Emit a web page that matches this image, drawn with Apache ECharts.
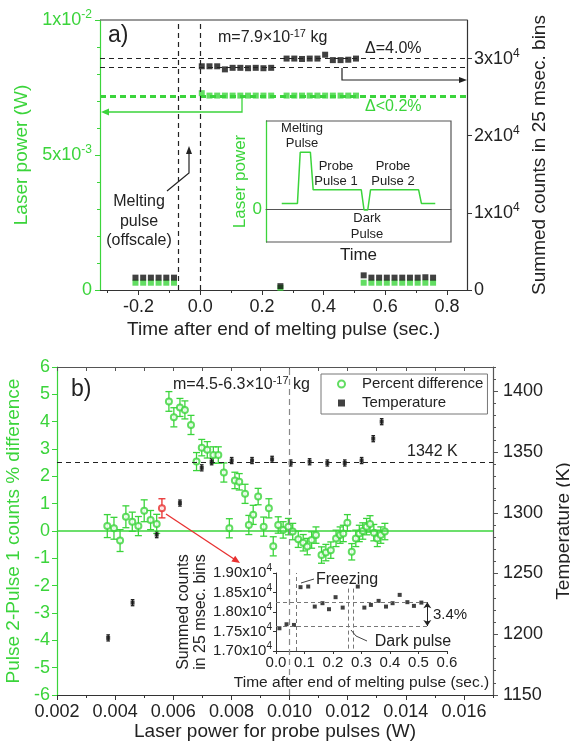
<!DOCTYPE html>
<html><head><meta charset="utf-8">
<script src="https://cdn.jsdelivr.net/npm/echarts@6/dist/echarts.min.js"></script>
<style>html,body{margin:0;padding:0;background:#fff}#c{width:570px;height:748px}</style>
</head><body><div id="c"></div>
<script>
// ---------- Panel a: time trace ----------
const aTime = [-0.21,-0.185,-0.16,-0.135,-0.11,-0.085,
  0.005,0.03,0.055,0.08,0.105,0.13,0.155,0.18,0.205,0.23,
  0.26,
  0.28,0.305,0.33,0.355,0.38,0.405,0.43,0.455,0.48,0.505,
  0.53,0.555,0.58,0.605,0.63,0.655,0.68,0.705,0.73,0.755];
const aCounts = [1600,1600,1600,1600,1600,1600,
  29000,29000,29000,28600,28800,28800,28750,28800,28750,28800,
  500,
  30000,30000,29950,30000,30000,30500,29800,29800,29850,30000,
  1900,1600,1600,1600,1600,1600,1600,1600,1650,1600];
const aPower = [0.00027,0.00027,0.00027,0.00027,0.00027,0.00027,
  0.00729,0.0072,0.0072,0.0072,0.0072,0.0072,0.0072,0.0072,0.0072,0.0072,
  0.00008,
  0.0072,0.0072,0.0072,0.0072,0.0072,0.0072,0.0072,0.0072,0.0072,0.0072,
  0.00027,0.00027,0.00027,0.00027,0.00027,0.00027,0.00027,0.00027,0.00027,0.00027];
const aXTicks = [-0.2,0,0.2,0.4,0.6,0.8];
const aXMinor = [-0.3,-0.1,0.1,0.3,0.5,0.7];
const aCountTicks = [0,10000,20000,30000];
const aXRange = [-0.325, 0.865];
const aVLines = [-0.072, 0];
const aCountLines = [30000, 28850];
const aPowerLines = [0.00721, 0.00716];
// schematic inset (arbitrary units)
const pulseT = [8.5,17,18.5,24,25.5,51.5,53,55,56.5,82.5,84,91.5];
const pulseP = [0.17,0.17,1.72,1.72,0.58,0.58,-0.03,-0.03,0.58,0.58,0.17,0.17];

// ---------- Panel b ----------
const pdPower = [0.00373,0.00396,0.00417,0.00437,0.00459,0.00480,0.00500,0.00522,0.00543,
  0.00585,0.00602,0.00623,0.00640,0.00661,0.00680,0.00698,0.00717,0.00738,0.00755,
  0.00774,0.00793,0.00812,0.00827,0.00847,0.00860,0.00875,0.00892,0.00911,0.00929,
  0.00944,0.00961,0.00978,0.00996,0.01011,0.01030,0.01047,0.01061,0.01076,0.01091,
  0.01110,0.01125,0.01142,0.01160,0.01174,0.01185,0.01199,0.01214,0.01228,0.01240,
  0.01252,0.01265,0.01277,0.01290,0.01302,0.01314,0.01328];
const pdPercent = [0.18,0.10,-0.35,0.52,0.34,0.18,0.74,0.40,0.26,
  4.74,4.16,4.52,4.43,3.88,2.54,3.05,2.97,2.78,2.78,
  2.14,0.10,1.85,1.80,1.36,0.22,0.59,1.26,0.16,0.83,
  -0.56,0.22,0.04,0.16,-0.02,-0.30,-0.43,-0.57,-0.33,-0.15,
  -0.88,-0.79,-0.70,-0.27,-0.15,-0.09,0.30,-0.76,-0.27,-0.09,
  0.00,0.16,0.26,-0.06,-0.27,-0.15,-0.02];
const pdError = [0.42,0.40,0.40,0.40,0.35,0.35,0.40,0.35,0.35,
  0.36,0.35,0.33,0.33,0.35,0.33,0.30,0.30,0.30,0.30,
  0.35,0.35,0.30,0.30,0.35,0.35,0.35,0.30,0.35,0.35,
  0.35,0.30,0.30,0.30,0.30,0.30,0.30,0.30,0.30,0.30,
  0.30,0.30,0.30,0.30,0.30,0.30,0.30,0.30,0.30,0.30,
  0.30,0.30,0.30,0.30,0.30,0.30,0.30];
const redPower = [0.00561];
const redPercent = [0.83];
const redError = [0.35];
const tempPower = [0.00376,0.00460,0.00543,0.00623,0.00698,0.00732,0.00801,0.00871,
  0.00940,0.01004,0.01069,0.01130,0.01190,0.01248,0.01288,0.01317];
const tempK = [1197,1226,1282,1308,1337,1342,1343,1343,1344,1341,1342,1341,1341,1343,1361,1375];
const tempErr = 2.5;
const bXTicks = [0.002,0.004,0.006,0.008,0.010,0.012,0.014,0.016];
const bXMinor = [0.003,0.005,0.007,0.009,0.011,0.013,0.015,0.017];
const bTTicks = [1150,1200,1250,1300,1350,1400];
const bTMinor = [1160,1170,1180,1190,1210,1220,1230,1240,1260,1270,1280,1290,1310,1320,1330,1340,1360,1370,1380,1390,1410,1420];
const meltLine = 0.0057;
const plateauK = 1342;
// inset of panel b
const insetTime = [0.012,0.037,0.063,0.086,0.113,0.136,0.163,0.186,0.209,0.234,
  0.287,0.31,0.333,0.36,0.386,0.409,0.434,0.461,0.484,0.51];
const insetCounts = [17583,17686,17668,18637,18653,18139,18226,18072,18380,18113,
  18653,18113,18182,18285,18139,18226,18439,18252,18157,18241];
const insetLevels = [18250, 17640];

// ---------- styles ----------
const G = '#3bd43b', DK = '#222', AX = '#333';
const FF = '"Liberation Sans", Arial, sans-serif';
const zip = (xs, ys) => xs.map((x,i)=>[x, ys[i]]);
const zip3 = (xs, ys, es) => xs.map((x,i)=>[x, ys[i], es[i]]);
function rich(size, color){
  return {b:{fontSize:size, color, fontFamily:FF, lineHeight:size+4},
          s:{fontSize:Math.round(size*0.65), color, fontFamily:FF, lineHeight:Math.round(size*0.65), verticalAlign:'top'}};
}
function errRender(color, cap){
  return function(params, api){
    const x = api.value(0), y = api.value(1), e = api.value(2);
    const p1 = api.coord([x, y+e]), p2 = api.coord([x, y-e]);
    const st = {stroke:color, lineWidth:1.3};
    return {type:'group', children:[
      {type:'line', shape:{x1:p1[0],y1:p1[1],x2:p2[0],y2:p2[1]}, style:st},
      {type:'line', shape:{x1:p1[0]-cap,y1:p1[1],x2:p1[0]+cap,y2:p1[1]}, style:st},
      {type:'line', shape:{x1:p2[0]-cap,y1:p2[1],x2:p2[0]+cap,y2:p2[1]}, style:st}
    ]};
  };
}
const hLine = (v) => [{coord:[aXRange[0], v]}, {coord:[aXRange[1], v]}];
const noSplit = {show:false};
function tx(text, x, y, size, color, align, extra){
  return {type:'text', x, y, z:10, style:Object.assign({text, fontSize:size, fontFamily:FF, fill:color||DK, align:align||'left', verticalAlign:'middle'}, extra||{})};
}
function pl(points, color, w){ return {type:'polyline', z:10, shape:{points}, style:{stroke:color, lineWidth:w||1.2, fill:null}}; }
function tri(points, color){ return {type:'polygon', z:10, shape:{points}, style:{fill:color}}; }
const supRich = {b:{fontSize:16,fontFamily:FF,fill:DK,lineHeight:20}, s:{fontSize:11,fontFamily:FF,fill:DK,lineHeight:11,verticalAlign:'top'}};

const chart = echarts.init(document.getElementById('c'), null, {renderer:'canvas'});
const option = {
  animation:false,
  backgroundColor:'#fff',
  textStyle:{fontFamily:FF},
  grid:[
    {left:100, top:20, width:367, height:270, outerBoundsMode:'none'},
    {left:266, top:121, width:185, height:121, outerBoundsMode:'none'},
    {left:57, top:367, width:436, height:328, outerBoundsMode:'none'},
    {left:276, top:573, width:171, height:78, outerBoundsMode:'none'}
  ],
  xAxis:[
    {gridIndex:0, type:'value', position:'bottom', min:aXRange[0], max:aXRange[1],
     axisLine:{show:true, onZero:false, lineStyle:{color:AX, width:1.2}},
     axisTick:{show:true, customValues:aXTicks, length:5, lineStyle:{color:AX}},
     axisLabel:{customValues:aXTicks, formatter:v=>v.toFixed(1), fontSize:18, color:DK, margin:8},
     splitLine:noSplit,
     name:'Time after end of melting pulse (sec.)', nameLocation:'middle', nameGap:30,
     nameTextStyle:{fontSize:19, color:DK}},
    {gridIndex:0, type:'value', position:'bottom', min:aXRange[0], max:aXRange[1],
     axisLine:{show:false, onZero:false}, axisTick:{show:true, customValues:aXMinor, length:3, lineStyle:{color:AX}},
     axisLabel:{show:false}, splitLine:noSplit},
    {gridIndex:0, type:'value', position:'top', min:aXRange[0], max:aXRange[1], show:false,
     axisLine:{show:true, onZero:false, lineStyle:{color:'#777', width:1.5}}, axisTick:{show:false},
     axisLabel:{show:false}, splitLine:noSplit},
    {gridIndex:1, type:'value', min:0, max:100,
     axisLine:{show:true, onZero:true, lineStyle:{color:'#555', width:1}}, axisTick:{show:false},
     axisLabel:{show:false}, splitLine:noSplit,
     name:'Time', nameLocation:'middle', nameGap:5, nameTextStyle:{fontSize:17, color:DK}},
    {gridIndex:2, type:'value', position:'bottom', min:0.002, max:0.017,
     axisLine:{show:true, onZero:false, lineStyle:{color:AX, width:1.2}},
     axisTick:{show:true, customValues:bXTicks, length:5, lineStyle:{color:AX}},
     axisLabel:{customValues:bXTicks, formatter:v=>v.toFixed(3), fontSize:18, color:DK, margin:8},
     splitLine:noSplit,
     name:'Laser power for probe pulses (W)', nameLocation:'middle', nameGap:23,
     nameTextStyle:{fontSize:19, color:DK}},
    {gridIndex:2, type:'value', position:'bottom', min:0.002, max:0.017,
     axisLine:{show:false, onZero:false}, axisTick:{show:true, customValues:bXMinor, length:3, lineStyle:{color:AX}},
     axisLabel:{show:false}, splitLine:noSplit},
    {gridIndex:2, type:'value', position:'top', min:0.002, max:0.017, interval:0.001,
     axisLine:{show:true, onZero:false, lineStyle:{color:'#555', width:1.2}},
     axisTick:{show:true, inside:true, length:4, lineStyle:{color:'#555'}},
     axisLabel:{show:false}, splitLine:noSplit},
    {gridIndex:3, type:'value', min:0, max:0.6, interval:0.1,
     axisLine:{show:true, onZero:false, lineStyle:{color:AX, width:1}},
     axisTick:{show:true, length:3, lineStyle:{color:AX}},
     axisLabel:{formatter:v=>v.toFixed(1), fontSize:15, color:DK, margin:4},
     splitLine:noSplit,
     name:'Time after end of melting pulse (sec.)', nameLocation:'middle', nameGap:24,
     nameTextStyle:{fontSize:15.5, color:DK}}
  ],
  yAxis:[
    {gridIndex:0, type:'value', position:'left', min:0, max:0.01, interval:0.005,
     axisLine:{show:true, onZero:false, lineStyle:{color:G, width:1.2}},
     axisTick:{show:true, length:5, lineStyle:{color:G}},
     minorTick:{show:true, splitNumber:5, length:3, lineStyle:{color:G}},
     axisLabel:{margin:8, formatter:v=> v<1e-6 ? '{b|0}' : (v<0.0075 ? '{b|5x10}{s|-3}' : '{b|1x10}{s|-2}'), rich:rich(18,G)},
     splitLine:noSplit, minorSplitLine:{show:false},
     name:'Laser power (W)', nameLocation:'middle', nameGap:67, nameTextStyle:{fontSize:19, color:G}},
    {gridIndex:0, type:'value', position:'right', min:0, max:35000,
     axisLine:{show:true, onZero:false, lineStyle:{color:AX, width:1.2}},
     axisTick:{show:true, customValues:aCountTicks, length:5, lineStyle:{color:AX}},
     axisLabel:{customValues:aCountTicks, margin:7, formatter:v=> v===0 ? '{b|0}' : '{b|'+(v/1e4)+'x10}{s|4}', rich:rich(18,DK)},
     splitLine:noSplit,
     name:'Summed counts in 25 msec. bins', nameLocation:'middle', nameGap:59, nameTextStyle:{fontSize:19, color:DK}},
    {gridIndex:1, type:'value', min:-1, max:2.667,
     axisLine:{show:true, onZero:false, lineStyle:{color:G, width:1.3}}, axisTick:{show:false},
     axisLabel:{customValues:[0], color:G, fontSize:17, margin:4},
     splitLine:noSplit,
     name:'Laser power', nameLocation:'middle', nameGap:10, nameTextStyle:{fontSize:17, color:G}},
    {gridIndex:2, type:'value', position:'left', min:-6, max:6, interval:1,
     axisLine:{show:true, onZero:false, lineStyle:{color:G, width:1.2}},
     axisTick:{show:true, length:5, lineStyle:{color:G}},
     axisLabel:{fontSize:18, color:G, margin:7},
     splitLine:noSplit,
     name:'Pulse 2-Pulse 1 counts % difference', nameLocation:'middle', nameGap:31, nameTextStyle:{fontSize:19, color:G}},
    {gridIndex:2, type:'value', position:'right', min:1150, max:1420,
     axisLine:{show:true, onZero:false, lineStyle:{color:'#555', width:1.2}},
     axisTick:{show:true, customValues:bTTicks, length:5, lineStyle:{color:'#555'}},
     axisLabel:{customValues:bTTicks, formatter:v=>String(v), fontSize:18, color:DK, margin:10},
     splitLine:noSplit,
     name:'Temperature (K)', nameLocation:'middle', nameGap:49, nameTextStyle:{fontSize:19, color:DK}},
    {gridIndex:2, type:'value', position:'right', min:1150, max:1420,
     axisLine:{show:false, onZero:false}, axisTick:{show:true, customValues:bTMinor, length:3, lineStyle:{color:'#555'}},
     axisLabel:{show:false}, splitLine:noSplit},
    {gridIndex:3, type:'value', min:17000, max:19000, interval:500,
     axisLine:{show:true, onZero:false, lineStyle:{color:AX, width:1}},
     axisTick:{show:true, length:3, lineStyle:{color:AX}},
     axisLabel:{margin:4, formatter:v=>'{b|'+(v/1e4).toFixed(2)+'x10}{s|4}', rich:rich(15,DK)},
     splitLine:noSplit,
     name:'Summed counts\nin 25 msec. bins', nameLocation:'middle', nameGap:64,
     nameTextStyle:{fontSize:16, color:DK, lineHeight:17}}
  ],
  legend:{
    data:['Percent difference','Temperature'], left:321, top:374, orient:'vertical',
    padding:[2,4,3,16], itemGap:3, itemWidth:7, itemHeight:7,
    borderColor:'#777', borderWidth:1, backgroundColor:'#fff',
    textStyle:{fontSize:15, color:DK, lineHeight:16, padding:[0,0,0,12]}
  },
  series:[
    {type:'scatter', name:'aPower', xAxisIndex:0, yAxisIndex:0, data:zip(aTime,aPower),
     symbol:'rect', symbolSize:6, itemStyle:{color:G},
     markLine:{silent:true, symbol:['none','none'], label:{show:false},
       lineStyle:{color:G, type:[6,4], width:1.8}, data:aPowerLines.map(hLine)}},
    {type:'scatter', name:'aCounts', xAxisIndex:0, yAxisIndex:1, data:zip(aTime,aCounts),
     symbol:'rect', symbolSize:6, itemStyle:{color:'#111'},
     markLine:{silent:true, symbol:['none','none'], label:{show:false},
       lineStyle:{color:'#222', type:[5,4], width:1.2},
       data:aVLines.map(v=>({xAxis:v})).concat(aCountLines.map(hLine))}},
    {type:'line', name:'pulse', xAxisIndex:3, yAxisIndex:2, data:zip(pulseT,pulseP),
     symbol:'none', lineStyle:{color:G, width:1.5}},
    {type:'custom', name:'pdErr', xAxisIndex:4, yAxisIndex:3, data:zip3(pdPower,pdPercent,pdError),
     encode:{x:0,y:1}, renderItem:errRender(G,3.5), z:2},
    {type:'scatter', name:'Percent difference', xAxisIndex:4, yAxisIndex:3, data:zip(pdPower,pdPercent),
     symbol:'emptyCircle', symbolSize:6, itemStyle:{color:G, borderWidth:1.4}, z:3,
     markLine:{silent:true, symbol:['none','none'], label:{show:false},
       data:[{yAxis:0, lineStyle:{type:'solid', color:G, width:1.5}},
             {xAxis:meltLine, lineStyle:{type:[6,4], color:'#888', width:1.2}}]}},
    {type:'custom', name:'redErr', xAxisIndex:4, yAxisIndex:3, data:zip3(redPower,redPercent,redError),
     encode:{x:0,y:1}, renderItem:errRender('#e83030',3.5), z:2},
    {type:'scatter', name:'red', xAxisIndex:4, yAxisIndex:3, data:zip(redPower,redPercent),
     symbol:'emptyCircle', symbolSize:6, itemStyle:{color:'#e83030', borderWidth:1.4}, z:3},
    {type:'custom', name:'tempErr', xAxisIndex:4, yAxisIndex:4,
     data:tempPower.map((x,i)=>[x,tempK[i],tempErr]), encode:{x:0,y:1}, renderItem:errRender('#222',1.8), z:2},
    {type:'scatter', name:'Temperature', xAxisIndex:4, yAxisIndex:4, data:zip(tempPower,tempK),
     symbol:'rect', symbolSize:4, itemStyle:{color:'#111'}, z:3,
     markLine:{silent:true, symbol:['none','none'], label:{show:false},
       lineStyle:{color:'#222', type:[5,4], width:1.2}, data:[{yAxis:plateauK}]}},
    {type:'scatter', name:'inset', xAxisIndex:7, yAxisIndex:6, data:zip(insetTime,insetCounts),
     symbol:'rect', symbolSize:4, itemStyle:{color:'#111'},
     markLine:{silent:true, symbol:['none','none'], label:{show:false},
       lineStyle:{color:'#777', type:[4,3], width:1},
       data:[
         [{coord:[0,insetLevels[0]]},{coord:[0.54,insetLevels[0]]}],
         [{coord:[0,insetLevels[1]]},{coord:[0.54,insetLevels[1]]}],
         {xAxis:0.074},
         [{coord:[0.252,18600]},{coord:[0.252,17000]}],
         [{coord:[0.272,18600]},{coord:[0.272,17000]}],
         [{coord:[0.531,insetLevels[0]], symbol:'arrow', symbolSize:6},
          {coord:[0.531,insetLevels[1]], symbol:'arrow', symbolSize:6, lineStyle:{type:'solid', color:'#222'}}]
       ]}}
  ],
  graphic:{elements:[
    // panel a frame top
    {type:'line', z:1, shape:{x1:100, y1:20, x2:467, y2:20}, style:{stroke:'#777', lineWidth:1.5}},
    // panel a annotations
    tx('a)', 108, 36, 23, DK),
    tx('{b|m=7.9×10}{s|-17}{b| kg}', 218, 38, 16, DK, 'left', {rich:supRich}),
    tx('Δ=4.0%', 365, 49, 16, DK),
    tx('Δ<0.2%', 365, 107, 16, G),
    tx('Melting', 139, 202, 16, DK, 'center'),
    tx('pulse', 139, 222, 16, DK, 'center'),
    tx('(offscale)', 139, 241, 16, DK, 'center'),
    pl([[342,68],[342,80],[461,80]], '#222', 1.2), tri([[467,80],[459,77],[459,83]], '#222'),
    pl([[242,97],[242,112],[107,112]], G, 1.3), tri([[101,112],[109,108.5],[109,115.5]], G),
    pl([[167,191],[189,173],[189,153]], '#222', 1.2), tri([[189,146],[186,154],[192,154]], '#222'),
    // schematic inset box
    pl([[266,121],[451,121],[451,242],[266,242]], '#555', 1.2),
    tx('Melting', 302, 128, 13, DK, 'center'), tx('Pulse', 302, 143, 13, DK, 'center'),
    tx('Probe', 336, 166, 13, DK, 'center'), tx('Pulse 1', 336, 181, 13, DK, 'center'),
    tx('Probe', 393, 166, 13, DK, 'center'), tx('Pulse 2', 393, 181, 13, DK, 'center'),
    tx('Dark', 367, 218, 13, DK, 'center'), tx('Pulse', 367, 234, 13, DK, 'center'),
    // panel b annotations
    tx('b)', 71, 390, 23, DK),
    tx('{b|m=4.5-6.3×10}{s|-17}{b| kg}', 173, 385, 16, DK, 'left', {rich:supRich}),
    tx('1342 K', 407, 452, 16, DK),
    pl([[166,514],[234,559]], '#e83030', 1.3), tri([[240,563],[231.4,561.5],[235.2,555.7]], '#e83030'),
    tx('Freezing', 347, 580, 16, DK, 'center'),
    pl([[301,583],[314,579]], '#444', 1),
    tx('Dark pulse', 413, 642, 16, DK, 'center'),
    pl([[351,630],[356,636],[367,641]], '#444', 1),
    tx('3.4%', 433, 615, 15, DK)
  ]}
};
chart.setOption(option);
</script>
</body></html>
